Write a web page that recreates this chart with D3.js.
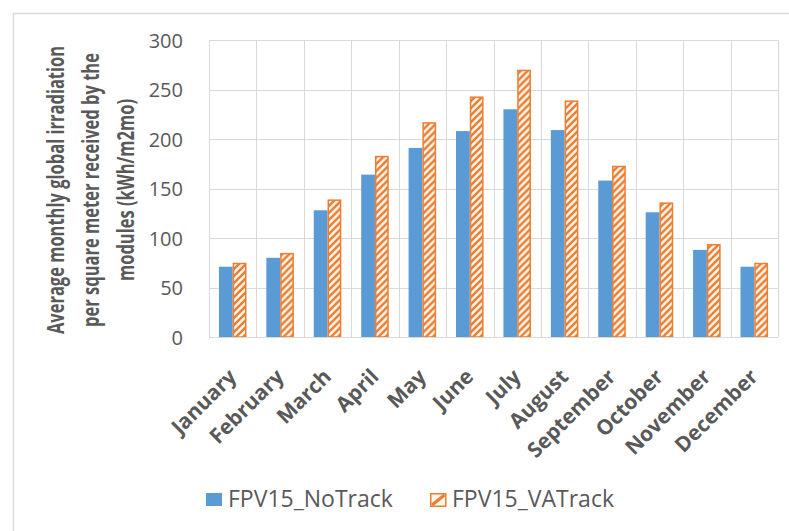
<!DOCTYPE html>
<html>
<head>
<meta charset="utf-8">
<script src="https://cdn.jsdelivr.net/npm/d3@7"></script>
<style>
  html, body { margin: 0; padding: 0; background: #ffffff; }
  svg { display: block; }
</style>
</head>
<body>
<svg id="chart" width="789" height="531"></svg>
<script>
// Monthly irradiation received by the modules, two tracking configurations
const months = ["January", "February", "March", "April", "May", "June",
                "July", "August", "September", "October", "November", "December"];
const seriesNames = ["FPV15_NoTrack", "FPV15_VATrack"];
const noTrack = [71, 80, 128, 164, 191, 208, 230, 209, 158, 126, 88, 71];
const vaTrack = [75, 85, 139, 183, 217, 243, 270, 239, 173, 136, 94, 75];
const yTicks = [0, 50, 100, 150, 200, 250, 300];
const titleLines = ["Average monthly global irradiation",
                    "per square meter received by the",
                    "modules (kWh/m2mo)"];

const BLUE = "#5b9bd5";
const ORANGE = "#ed7d31";
const GRID = "#d9d9d9";
const TEXT = "#595959";
const FONT = "'Open Sans', 'Noto Sans', sans-serif";

const svg = d3.select("#chart");
const plot = { left: 209, right: 778, top: 40, bottom: 337 };

// Diagonal hatch used for the tracked series
const defs = svg.append("defs");
const pat = defs.append("pattern")
  .attr("id", "hatch")
  .attr("patternUnits", "userSpaceOnUse")
  .attr("width", 7).attr("height", 7);
pat.append("rect").attr("width", 7).attr("height", 7).attr("fill", "#fff6ec");
pat.append("path")
  .attr("d", "M-1,1 l2,-2 M0,7 l7,-7 M6,8 l2,-2")
  .attr("stroke", ORANGE).attr("stroke-width", 2.4);

// Chart frame
svg.append("path")
  .attr("d", "M13.5,531 V13.5 H789")
  .attr("fill", "none").attr("stroke", GRID).attr("stroke-width", 1.5);

const x0 = d3.scaleBand().domain(months).range([plot.left, plot.right]).padding(0);
const x1 = d3.scaleBand().domain(seriesNames).range([0, x0.bandwidth()])
  .paddingInner(0).paddingOuter(0.72);
const y = d3.scaleLinear().domain([0, 300]).range([plot.bottom, plot.top]);

// Horizontal gridlines
svg.append("g").selectAll("line").data(yTicks).join("line")
  .attr("x1", plot.left).attr("x2", plot.right)
  .attr("y1", d => Math.round(y(d)) + 0.5).attr("y2", d => Math.round(y(d)) + 0.5)
  .attr("stroke", GRID).attr("stroke-width", 1);

// Vertical gridlines at category boundaries
const bounds = months.map(m => x0(m)).concat([plot.right]);
svg.append("g").selectAll("line").data(bounds).join("line")
  .attr("x1", d => Math.round(d) + 0.5).attr("x2", d => Math.round(d) + 0.5)
  .attr("y1", plot.top).attr("y2", plot.bottom)
  .attr("stroke", GRID).attr("stroke-width", 1);

// Y axis labels
const yAxis = d3.axisLeft(y).tickValues(yTicks).tickSize(0).tickPadding(0);
const gy = svg.append("g").attr("transform", `translate(${plot.left - 26},0)`).call(yAxis);
gy.select(".domain").remove();
gy.selectAll("text")
  .attr("fill", TEXT).attr("font-family", FONT).attr("font-size", 20)
  .attr("dy", "0.36em");

// Bars
const rows = months.map((m, i) => ({ month: m, values: [noTrack[i], vaTrack[i]] }));
const groups = svg.append("g").selectAll("g").data(rows).join("g")
  .attr("transform", d => `translate(${x0(d.month)},0)`);

groups.append("rect")
  .attr("x", x1(seriesNames[0]))
  .attr("y", d => y(d.values[0]))
  .attr("width", x1.bandwidth())
  .attr("height", d => y(0) - y(d.values[0]))
  .attr("fill", BLUE);

groups.append("rect")
  .attr("x", x1(seriesNames[1]) + 0.75)
  .attr("y", d => y(d.values[1]) + 0.75)
  .attr("width", x1.bandwidth() - 1.5)
  .attr("height", d => y(0) - y(d.values[1]) - 0.75)
  .attr("fill", "url(#hatch)")
  .attr("stroke", ORANGE).attr("stroke-width", 1.5);

// Category axis line
svg.append("line")
  .attr("x1", plot.left).attr("x2", plot.right)
  .attr("y1", plot.bottom + 0.5).attr("y2", plot.bottom + 0.5)
  .attr("stroke", GRID).attr("stroke-width", 1);

// Rotated month labels
svg.append("g").selectAll("text").data(months).join("text")
  .attr("transform", d => `translate(${x0(d) + x0.bandwidth() / 2 + 5},${plot.bottom + 41}) rotate(-45)`)
  .attr("text-anchor", "end")
  .attr("fill", TEXT).attr("font-family", FONT).attr("font-weight", 700)
  .attr("font-size", 21)
  .text(d => d);

// Y axis title (three lines, rotated)
const title = svg.append("text")
  .attr("transform", "translate(99,190) rotate(-90) scale(1,1.45)")
  .attr("text-anchor", "middle")
  .attr("fill", TEXT).attr("font-family", FONT).attr("font-weight", 700)
  .attr("font-size", 16.5);
title.selectAll("tspan").data(titleLines).join("tspan")
  .attr("x", 0)
  .attr("y", (d, i) => (i - 1) * 23.8)
  .text(d => d);

// Legend
const legend = svg.append("g").attr("transform", "translate(206,493)");
legend.append("rect").attr("x", 0).attr("y", 0).attr("width", 16).attr("height", 13).attr("fill", BLUE);
legend.append("text").attr("x", 22).attr("y", 13.5)
  .attr("fill", TEXT).attr("font-family", FONT).attr("font-size", 23)
  .text(seriesNames[0]);

const l2 = legend.append("g").attr("transform", "translate(224,0)");
l2.append("rect").attr("x", 0.75).attr("y", 0.75).attr("width", 15).attr("height", 12.5)
  .attr("fill", "#fff6ec").attr("stroke", ORANGE).attr("stroke-width", 1.5);
l2.append("path").attr("d", "M2,12 L14.5,2")
  .attr("stroke", ORANGE).attr("stroke-width", 3);
l2.append("text").attr("x", 22).attr("y", 13.5)
  .attr("fill", TEXT).attr("font-family", FONT).attr("font-size", 23)
  .text(seriesNames[1]);
</script>
</body>
</html>
